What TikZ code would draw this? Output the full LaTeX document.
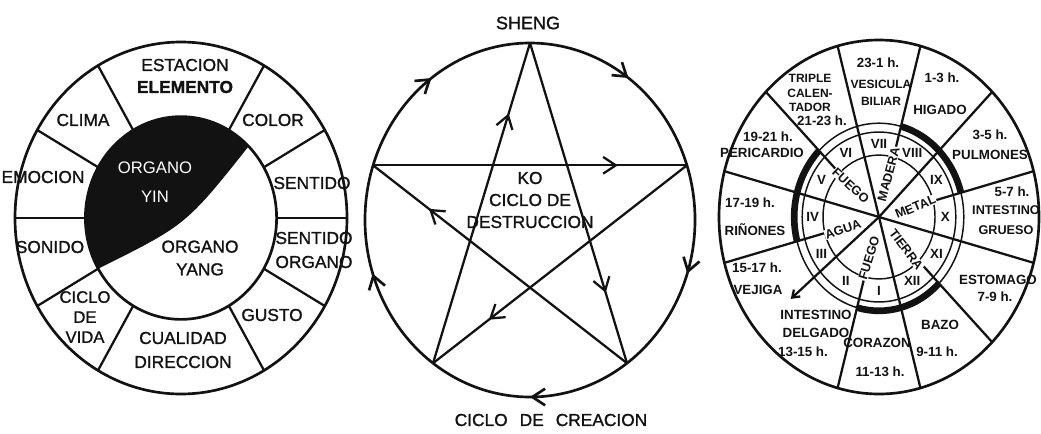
\documentclass[tikz,border=0pt]{standalone}
\usepackage{fontspec}
\setmainfont{Liberation Sans}
\newfontfamily\medfont{Liberation Sans}[FakeBold=1.2]
\usetikzlibrary{arrows.meta,decorations.markings}
\definecolor{ink}{RGB}{18,18,18}
\definecolor{paper}{RGB}{255,255,255}
\tikzset{
  wheelline/.style={draw=ink,line width=2pt},
  spokeline/.style={draw=ink,line width=1.7pt},
  thinring/.style={draw=ink,line width=1.1pt},
  thickarc/.style={draw=ink,line width=5pt},
  wlabel/.style={font=\medfont\fontsize{13}{16.5}\selectfont,align=center,inner sep=0pt,text=ink},
  clabel/.style={font=\fontsize{10}{11}\selectfont\bfseries,align=center,inner sep=0pt,text=ink},
  numlabel/.style={font=\fontsize{10}{11}\selectfont\bfseries,inner sep=0pt,text=ink},
  elemlabel/.style={font=\fontsize{9.5}{10}\selectfont\bfseries,inner sep=0.4pt,fill=paper,text=ink},
  midbarb/.style={postaction={decorate},decoration={markings,
    mark=at position #1 with {\arrow{Straight Barb[length=9.5pt,width=12.5pt]}}}}
}
\begin{document}
\begin{tikzpicture}[x=0.75pt,y=-0.75pt]
  \useasboundingbox (0,0) rectangle (1041,433);
  % left wheel: organo yin / yang
  \begin{scope}[shift={(181,218)},x=124.5pt,y=132pt]
    \fill[ink] (45:0.576) arc[start angle=45,end angle=210,radius=0.576]
      .. controls (0.03,-0.04) .. (45:0.576);
    \draw[wheelline] (0,0) circle[radius=1];
    \draw[wheelline] (0,0) circle[radius=0.576];
    \foreach \a in {0,30,60,120,150,180,210,240,300,330}
      \draw[spokeline] (\a:0.576) -- (\a:1);
  \end{scope}
  \node[wlabel] (estacion) at (185,76) {ESTACION\\\textbf{ELEMENTO}};
  \node[wlabel] (clima) at (83,120) {CLIMA};
  \node[wlabel] (color) at (273,120) {COLOR};
  \node[wlabel] (emocion) at (43,177) {EMOCION};
  \node[wlabel] (sentido) at (312,183) {SENTIDO};
  \node[wlabel] (sonido) at (50,247) {SONIDO};
  \node[wlabel,font=\medfont\fontsize{13}{18}\selectfont] (sentorg) at (314,250) {SENTIDO\\ORGANO};
  \node[wlabel,font=\medfont\fontsize{12.5}{15}\selectfont] (ciclo) at (85,317) {CICLO\\DE\\VIDA};
  \node[wlabel] (gusto) at (272,315) {GUSTO};
  \node[wlabel,font=\medfont\fontsize{13}{18}\selectfont] (cualidad) at (183,350) {CUALIDAD\\DIRECCION};
  \node[wlabel,text=paper,font=\fontsize{12.5}{21.5}\selectfont] (yin) at (155,182) {ORGANO\\YIN};
  \node[wlabel,font=\medfont\fontsize{13}{17}\selectfont] (yang) at (200,258) {ORGANO\\YANG};
  % middle wheel: sheng and ko cycles
  \begin{scope}[shift={(530,220)},x=123.75pt,y=132.75pt]
    \foreach \i/\a in {1/90,2/18,3/-54,4/-126,5/162}
      \coordinate (v\i) at (\a:1);
    \draw[wheelline,midbarb=0.5] (v1) arc[start angle=90,end angle=18,radius=1];
    \draw[wheelline,midbarb=0.5] (v2) arc[start angle=18,end angle=-54,radius=1];
    \draw[wheelline,midbarb=0.5] (v3) arc[start angle=-54,end angle=-126,radius=1];
    \draw[wheelline,midbarb=0.5] (v4) arc[start angle=-126,end angle=-198,radius=1];
    \draw[wheelline,midbarb=0.5] (v5) arc[start angle=162,end angle=90,radius=1];
    \foreach \s/\e in {v1/v3,v3/v5,v5/v2,v2/v4,v4/v1}
      \draw[spokeline,midbarb=0.78] (\s) -- (\e);
  \end{scope}
  \node[wlabel,font=\medfont\fontsize{13.5}{16}\selectfont] (sheng) at (528,23) {SHENG};
  \node[wlabel] (ko) at (530,200) {KO\\CICLO DE\\DESTRUCCION};
  \node[wlabel] (creacion) at (551,420) {CICLO\hspace{9pt}DE\hspace{9pt}CREACION};
  % right wheel: organ clock
  \begin{scope}[shift={(879,217)},x=120pt,y=132.75pt]
    \draw[wheelline] (0,0) circle[radius=1];
    \draw[thinring] (0,0) circle[radius=0.53];
    \draw[thinring] (0,0) circle[radius=0.48];
    \draw[thinring] (0,0) circle[radius=0.35];
    \foreach \a in {15,75,...,315}
      \draw[spokeline] (\a:0.35) -- (\a:1);
    \foreach \a in {45,105,165,285,345}
      \draw[spokeline] (0,0) -- (\a:1);
    \coordinate (cen) at (0,0);
    \coordinate (tipsw) at (220:0.72);
    \draw[spokeline,-{Straight Barb[length=5pt,width=7pt]}] (cen) -- (tipsw);
    \foreach \a in {15,135,255}
      \draw[thickarc] (\a:0.53) arc[start angle=\a,end angle=\a+60,radius=0.53];
    \foreach \n [count=\k from 0] in {I,II,III,IV,V,VI,VII,VIII,IX,X,XI,XII}
      \node[numlabel] (num\n) at ({-90-30*\k}:0.415) {\n};
    \node[elemlabel,rotate=-43] (fuegoup) at (135:0.25) {FUEGO};
    \node[elemlabel,rotate=75] (madera) at (76:0.25) {MADERA};
    \node[elemlabel,rotate=22] (metal) at (14:0.235) {METAL};
    \node[elemlabel,rotate=-53] (tierra) at (-47:0.25) {TIERRA};
    \node[elemlabel,rotate=73] (fuegodn) at (-105:0.24) {FUEGO};
    \node[elemlabel,rotate=19] (agua) at (197:0.235) {AGUA};
  \end{scope}
  \node[clabel] (h23) at (878,63) {23-1 h.};
  \node[clabel,font=\fontsize{9}{12.5}\selectfont\bfseries] (vesicula) at (881,93) {VESICULA\\BILIAR};
  \node[clabel,font=\fontsize{9}{10.8}\selectfont\bfseries] (triple) at (810,93) {TRIPLE\\CALEN-\\TADOR};
  \node[clabel] (h21) at (822,121) {21-23 h.};
  \node[clabel] (h1) at (942,78) {1-3 h.};
  \node[clabel] (higado) at (940,110) {HIGADO};
  \node[clabel] (h3) at (990,135) {3-5 h.};
  \node[clabel] (pulmones) at (990,155) {PULMONES};
  \node[clabel] (h5) at (1012,192) {5-7 h.};
  \node[clabel,font=\fontsize{9.5}{15}\selectfont\bfseries] (grueso) at (1006,220) {INTESTINO\\GRUESO};
  \node[clabel] (estomago) at (998,280) {ESTOMAGO};
  \node[clabel] (h7) at (995,297) {7-9 h.};
  \node[clabel] (bazo) at (940,325) {BAZO};
  \node[clabel] (h9) at (937,352) {9-11 h.};
  \node[clabel] (corazon) at (877,343) {CORAZON};
  \node[clabel] (h11) at (880,372) {11-13 h.};
  \node[clabel,font=\fontsize{10}{13.5}\selectfont\bfseries] (delgado) at (816,324) {INTESTINO\\DELGADO};
  \node[clabel] (h13) at (803,352) {13-15 h.};
  \node[clabel] (h15) at (757,268) {15-17 h.};
  \node[clabel] (vejiga) at (758,290) {VEJIGA};
  \node[clabel] (h17) at (750,203) {17-19 h.};
  \node[clabel] (rinones) at (755,230) {RIÑONES};
  \node[clabel] (h19) at (768,137) {19-21 h.};
  \node[clabel] (pericardio) at (762,153) {PERICARDIO};
\end{tikzpicture}
\end{document}
